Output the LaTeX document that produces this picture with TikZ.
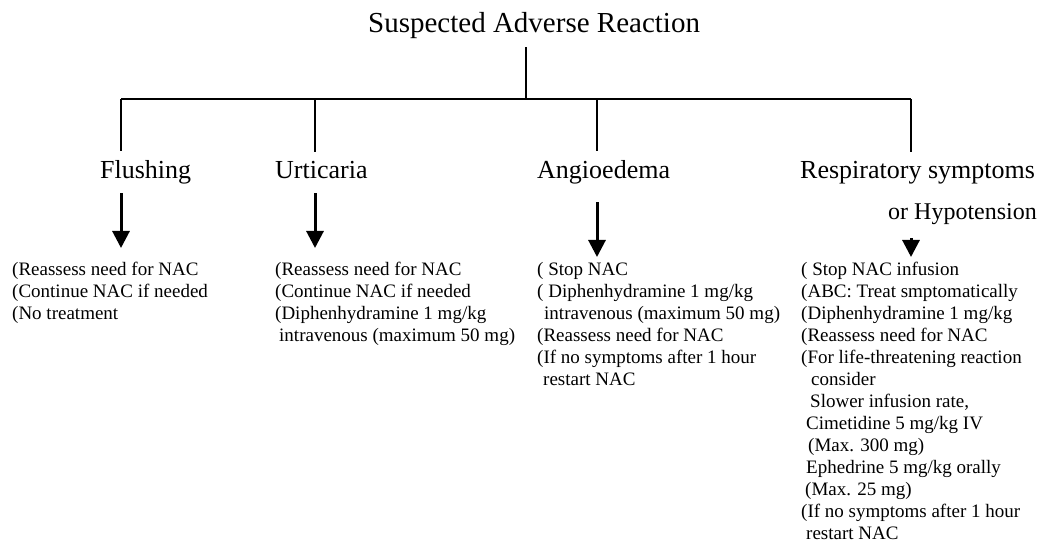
\documentclass[tikz,border=0pt]{standalone}
\usepackage{fontspec}
\setmainfont{Liberation Serif}
\usetikzlibrary{arrows.meta, positioning, calc}

\begin{document}
\begin{tikzpicture}[x=1pt, y=-1pt,
    every node/.style={inner sep=0pt},
    top/.style={font=\fontsize{29}{34}\selectfont, anchor=base west},
    head/.style={font=\fontsize{26}{30}\selectfont, anchor=base west},
    todo/.style={font=\fontsize{19}{22}\selectfont, anchor=north west, align=left},
    link/.style={line width=1.1pt},
    down/.style={line width=3pt, -{Triangle[width=17pt, length=17pt]}},
]
\useasboundingbox (0,0) rectangle (1043,545);

% the question at the top
\node[top] (title) at (368,33) {Suspected Adverse Reaction};

% where the tree splits
\coordinate (hub) at (526,99);
\coordinate (j1) at (121,99);
\coordinate (j2) at (315,99);
\coordinate (j3) at (597,99);
\coordinate (j4) at (911,99);

% the four kinds of reaction
\node[head] (flush) at (100,179) {Flushing};
\node[head] (urti) at (275,179) {Urticaria};
\node[head] (angio) at (537,179) {Angioedema};
\node[head] (resp) at (800,179) {Respiratory symptoms};
\node[head, font=\fontsize{24}{28}\selectfont] (hypo) at (888,220) {or Hypotension};

% what to do for each
\node[todo] (flushtxt) at (12,262)
    {(Reassess need for NAC\\
     (Continue NAC if needed\\
     (No treatment};
\node[todo] (urtitxt) at (275,262)
    {(Reassess need for NAC\\
     (Continue NAC if needed\\
     (Diphenhydramine 1 mg/kg\\
     \hspace*{4pt}intravenous (maximum 50 mg)};
\node[todo] (angiotxt) at (537,262)
    {( Stop NAC\\
     ( Diphenhydramine 1 mg/kg\\
     \hspace*{7pt}intravenous (maximum 50 mg)\\
     (Reassess need for NAC\\
     (If no symptoms after 1 hour\\
     \hspace*{6pt}restart NAC};
\node[todo] (resptxt) at (801,262)
    {( Stop NAC infusion\\
     (ABC: Treat smptomatically\\
     (Diphenhydramine 1 mg/kg\\
     (Reassess need for NAC\\
     (For life-threatening reaction\\
     \hspace*{10pt}consider\\
     \hspace*{9pt}Slower infusion rate,\\
     \hspace*{5pt}Cimetidine 5 mg/kg IV\\
     \hspace*{7pt}(Max. 300 mg)\\
     \hspace*{5pt}Ephedrine 5 mg/kg orally\\
     \hspace*{4pt}(Max. 25 mg)\\
     (If no symptoms after 1 hour\\
     \hspace*{5pt}restart NAC};

% the tree lines
\draw[link, shorten <=8pt] (hub |- title.south) -- (hub);
\draw[link] (j1) -- (j4);
\foreach \j/\h in {j1/flush, j2/urti, j3/angio, j4/resp}{
    \draw[link, shorten >=10pt] (\j) -- (\j |- \h.north);
}

% arrows down to the treatment lists
\draw[down, shorten <=8.5pt, shorten >=14pt] (j1 |- flush.south) -- (j1 |- flushtxt.north);
\draw[down, shorten <=14pt, shorten >=14pt] (j2 |- urti.south) -- (j2 |- urtitxt.north);
\draw[down, shorten <=17.5pt, shorten >=5pt] (j3 |- angio.south) -- (j3 |- angiotxt.north);
\draw[down, shorten <=13pt, shorten >=5pt] (j4 |- hypo.south) -- (j4 |- resptxt.north);

\end{tikzpicture}
\end{document}
